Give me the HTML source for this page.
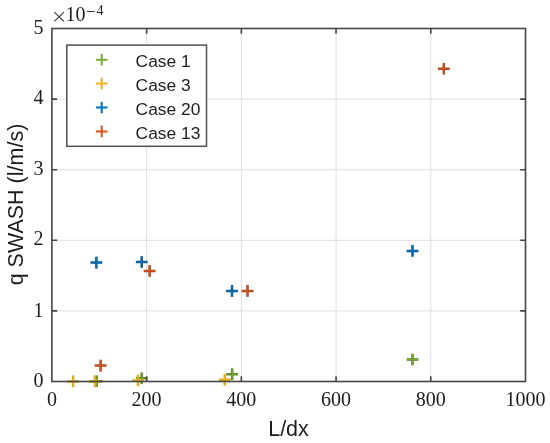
<!DOCTYPE html><html><head><meta charset="utf-8"><style>html,body{margin:0;padding:0;background:#fff;width:550px;height:443px;overflow:hidden}svg{display:block;will-change:transform}.s{font-family:"Liberation Serif",serif;fill:#1c1c1c}.a{font-family:"Liberation Sans",sans-serif;fill:#1c1c1c}</style></head><body>
<svg width="550" height="443" viewBox="0 0 550 443">
<rect width="550" height="443" fill="#fff"/>
<path d="M146.62 28.50V381.50M241.34 28.50V381.50M336.06 28.50V381.50M430.78 28.50V381.50M51.90 310.90H525.50M51.90 240.30H525.50M51.90 169.70H525.50M51.90 99.10H525.50" stroke="#dfdfdf" stroke-width="1" fill="none"/>
<path d="M90.90 381.30H102.50M96.70 375.50V387.10" stroke="#557a2c" stroke-width="2.5" fill="none"/><path d="M90.90 381.30H102.50M96.70 375.50V387.10" stroke="#77AC30" stroke-width="1.1" fill="none"/>
<path d="M135.90 378.20H147.50M141.70 372.40V384.00" stroke="#557a2c" stroke-width="2.5" fill="none"/><path d="M135.90 378.20H147.50M141.70 372.40V384.00" stroke="#77AC30" stroke-width="1.1" fill="none"/>
<path d="M226.40 374.20H238.00M232.20 368.40V380.00" stroke="#557a2c" stroke-width="2.5" fill="none"/><path d="M226.40 374.20H238.00M232.20 368.40V380.00" stroke="#77AC30" stroke-width="1.1" fill="none"/>
<path d="M406.70 359.50H418.30M412.50 353.70V365.30" stroke="#557a2c" stroke-width="2.5" fill="none"/><path d="M406.70 359.50H418.30M412.50 353.70V365.30" stroke="#77AC30" stroke-width="1.1" fill="none"/>
<path d="M67.30 381.40H78.90M73.10 375.60V387.20" stroke="#d2aa24" stroke-width="2.5" fill="none"/><path d="M67.30 381.40H78.90M73.10 375.60V387.20" stroke="#EDB120" stroke-width="1.1" fill="none"/>
<path d="M89.20 381.40H100.80M95.00 375.60V387.20" stroke="#d2aa24" stroke-width="2.5" fill="none"/><path d="M89.20 381.40H100.80M95.00 375.60V387.20" stroke="#EDB120" stroke-width="1.1" fill="none"/>
<path d="M132.20 380.50H143.80M138.00 374.70V386.30" stroke="#d2aa24" stroke-width="2.5" fill="none"/><path d="M132.20 380.50H143.80M138.00 374.70V386.30" stroke="#EDB120" stroke-width="1.1" fill="none"/>
<path d="M219.00 379.70H230.60M224.80 373.90V385.50" stroke="#d2aa24" stroke-width="2.5" fill="none"/><path d="M219.00 379.70H230.60M224.80 373.90V385.50" stroke="#EDB120" stroke-width="1.1" fill="none"/>
<path d="M90.60 262.60H102.20M96.40 256.80V268.40" stroke="#15537f" stroke-width="2.5" fill="none"/><path d="M90.60 262.60H102.20M96.40 256.80V268.40" stroke="#0072BD" stroke-width="1.1" fill="none"/>
<path d="M135.90 262.00H147.50M141.70 256.20V267.80" stroke="#15537f" stroke-width="2.5" fill="none"/><path d="M135.90 262.00H147.50M141.70 256.20V267.80" stroke="#0072BD" stroke-width="1.1" fill="none"/>
<path d="M226.20 290.90H237.80M232.00 285.10V296.70" stroke="#15537f" stroke-width="2.5" fill="none"/><path d="M226.20 290.90H237.80M232.00 285.10V296.70" stroke="#0072BD" stroke-width="1.1" fill="none"/>
<path d="M406.70 250.90H418.30M412.50 245.10V256.70" stroke="#15537f" stroke-width="2.5" fill="none"/><path d="M406.70 250.90H418.30M412.50 245.10V256.70" stroke="#0072BD" stroke-width="1.1" fill="none"/>
<path d="M94.80 365.60H106.40M100.60 359.80V371.40" stroke="#9c4620" stroke-width="2.5" fill="none"/><path d="M94.80 365.60H106.40M100.60 359.80V371.40" stroke="#D95319" stroke-width="1.1" fill="none"/>
<path d="M143.80 270.90H155.40M149.60 265.10V276.70" stroke="#9c4620" stroke-width="2.5" fill="none"/><path d="M143.80 270.90H155.40M149.60 265.10V276.70" stroke="#D95319" stroke-width="1.1" fill="none"/>
<path d="M241.70 290.90H253.30M247.50 285.10V296.70" stroke="#9c4620" stroke-width="2.5" fill="none"/><path d="M241.70 290.90H253.30M247.50 285.10V296.70" stroke="#D95319" stroke-width="1.1" fill="none"/>
<path d="M438.00 68.70H449.60M443.80 62.90V74.50" stroke="#9c4620" stroke-width="2.5" fill="none"/><path d="M438.00 68.70H449.60M443.80 62.90V74.50" stroke="#D95319" stroke-width="1.1" fill="none"/>
<rect x="51.90" y="28.50" width="473.60" height="353.00" stroke="#454545" stroke-width="1.6" fill="none"/>
<path d="M146.62 381.50V376.20M146.62 28.50V33.80M241.34 381.50V376.20M241.34 28.50V33.80M336.06 381.50V376.20M336.06 28.50V33.80M430.78 381.50V376.20M430.78 28.50V33.80M51.90 310.90H57.20M525.50 310.90H520.20M51.90 240.30H57.20M525.50 240.30H520.20M51.90 169.70H57.20M525.50 169.70H520.20M51.90 99.10H57.20M525.50 99.10H520.20" stroke="#454545" stroke-width="1.6" fill="none"/>
<text class="s" x="51.90" y="405.8" font-size="20" text-anchor="middle">0</text>
<text class="s" x="146.62" y="405.8" font-size="20" text-anchor="middle">200</text>
<text class="s" x="241.34" y="405.8" font-size="20" text-anchor="middle">400</text>
<text class="s" x="336.06" y="405.8" font-size="20" text-anchor="middle">600</text>
<text class="s" x="430.78" y="405.8" font-size="20" text-anchor="middle">800</text>
<text class="s" x="525.50" y="405.8" font-size="20" text-anchor="middle">1000</text>
<text class="s" x="43.4" y="386.80" font-size="20" text-anchor="end">0</text>
<text class="s" x="43.4" y="316.50" font-size="20" text-anchor="end">1</text>
<text class="s" x="43.4" y="245.00" font-size="20" text-anchor="end">2</text>
<text class="s" x="43.4" y="175.30" font-size="20" text-anchor="end">3</text>
<text class="s" x="43.4" y="103.90" font-size="20" text-anchor="end">4</text>
<text class="s" x="43.4" y="34.10" font-size="20" text-anchor="end">5</text>
<path d="M54.3 12.2L63.9 21.4M54.3 21.4L63.9 12.2M86.8 11.4H94.7" stroke="#333" stroke-width="1.05" fill="none"/>
<text class="s" x="65.4" y="21.4" font-size="20">10</text>
<text class="s" x="96.6" y="14.7" font-size="14">4</text>
<text class="a" x="288.5" y="435.5" font-size="21.5" text-anchor="middle">L/dx</text>
<text class="a" transform="translate(23.3,204.5) rotate(-90)" x="0" y="0" font-size="21.5" text-anchor="middle">q SWASH (l/m/s)</text>
<rect x="66.8" y="45.1" width="139.7" height="101.2" stroke="#505050" stroke-width="1.5" fill="#fff"/>
<path d="M95.90 59.70H107.50M101.70 53.90V65.50" stroke="#77AC30" stroke-width="2.0" fill="none"/>
<text class="a" x="135.6" y="67.30" font-size="17.4">Case 1</text>
<path d="M95.90 83.60H107.50M101.70 77.80V89.40" stroke="#EDB120" stroke-width="2.0" fill="none"/>
<text class="a" x="135.6" y="91.10" font-size="17.4">Case 3</text>
<path d="M95.90 107.50H107.50M101.70 101.70V113.30" stroke="#0072BD" stroke-width="2.0" fill="none"/>
<text class="a" x="135.6" y="114.90" font-size="17.4">Case 20</text>
<path d="M95.90 131.40H107.50M101.70 125.60V137.20" stroke="#D95319" stroke-width="2.0" fill="none"/>
<text class="a" x="135.6" y="138.70" font-size="17.4">Case 13</text>
</svg></body></html>
